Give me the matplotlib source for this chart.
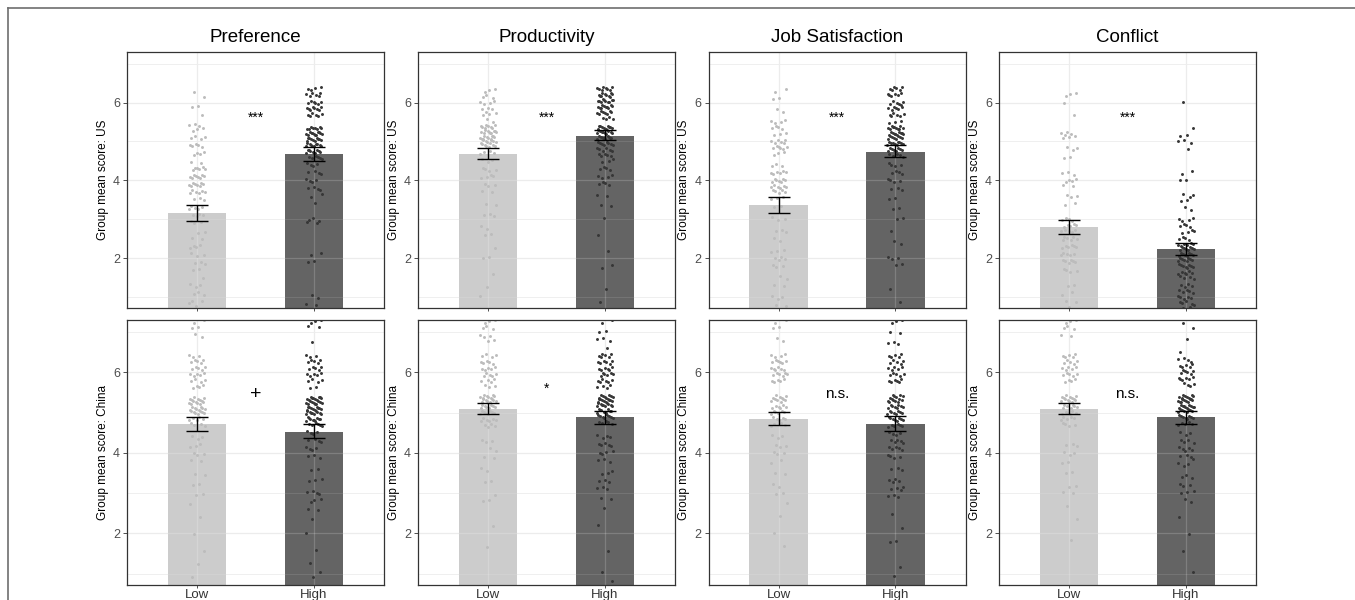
import numpy as np
import matplotlib
matplotlib.use('Agg')
import matplotlib.pyplot as plt
from matplotlib.lines import Line2D

plt.rcParams['font.family'] = ['Liberation Sans', 'DejaVu Sans']

# ---- data -------------------------------------------------------------
titles = ['Preference', 'Productivity', 'Job Satisfaction', 'Conflict']
countries = ['US', 'China']
groups = ['Low', 'High']

# bar heights (group means)
us_low_mean = [3.15, 4.68, 3.36, 2.79]
us_high_mean = [4.68, 5.15, 4.74, 2.23]
china_low_mean = [4.71, 5.10, 4.85, 5.10]
china_high_mean = [4.52, 4.88, 4.73, 4.88]

# error bar limits
us_low_lo = [2.96, 4.54, 3.15, 2.63]
us_low_hi = [3.37, 4.84, 3.57, 2.97]
us_high_lo = [4.51, 5.04, 4.59, 2.07]
us_high_hi = [4.86, 5.30, 4.92, 2.38]
china_low_lo = [4.54, 4.96, 4.69, 4.96]
china_low_hi = [4.88, 5.25, 5.01, 5.25]
china_high_lo = [4.37, 4.73, 4.55, 4.73]
china_high_hi = [4.71, 5.05, 4.91, 5.05]

# significance labels
us_sig = ['***', '***', '***', '***']
us_sig_y = [5.6, 5.6, 5.6, 5.6]
china_sig = ['+', '*', 'n.s.', 'n.s.']
china_sig_y = [5.45, 5.58, 5.46, 5.46]

# individual scores, as (value, count)
us_pref_low = [(6.3, 1), (6.1, 1), (5.9, 2), (5.7, 1), (5.4, 3), (5.3, 3), (5.1, 4), (4.9, 5),
               (4.7, 4), (4.5, 2), (4.3, 6), (4.1, 8), (3.9, 8), (3.7, 6), (3.5, 3), (3.3, 5),
               (3.1, 4), (2.9, 3), (2.7, 2), (2.5, 2), (2.3, 4), (2.1, 3), (1.9, 3), (1.7, 2),
               (1.5, 1), (1.3, 3), (1.1, 3), (0.9, 2), (0.8, 2)]
us_pref_high = [(6.35, 4), (6.2, 6), (6.0, 6), (5.85, 8), (5.7, 6), (5.35, 8), (5.2, 12), (5.05, 10),
                (4.9, 10), (4.75, 10), (4.6, 6), (4.4, 4), (4.2, 4), (4.0, 4), (3.8, 4), (3.6, 2),
                (3.4, 1), (3.0, 3), (2.9, 2), (2.1, 2), (1.9, 2), (1.0, 2), (0.8, 2)]
us_prod_low = [(6.3, 3), (6.15, 3), (6.0, 4), (5.85, 3), (5.7, 4), (5.55, 2), (5.4, 8), (5.25, 10),
               (5.1, 10), (5.0, 8), (4.9, 6), (4.7, 4), (4.5, 3), (4.3, 4), (4.1, 4), (3.9, 3),
               (3.7, 2), (3.4, 2), (3.1, 3), (2.8, 2), (2.6, 2), (2.3, 1), (2.0, 2), (1.6, 1),
               (1.3, 1), (1.0, 1)]
us_prod_high = [(6.35, 8), (6.2, 10), (6.05, 10), (5.9, 10), (5.75, 8), (5.6, 4), (5.35, 10),
                (5.25, 12), (5.1, 10), (4.95, 8), (4.8, 6), (4.65, 5), (4.5, 3), (4.3, 4), (4.1, 4),
                (3.9, 4), (3.6, 2), (3.4, 2), (3.0, 1), (2.6, 1), (2.2, 1), (1.8, 2), (1.2, 1),
                (0.9, 1)]
us_job_low = [(6.3, 2), (6.1, 2), (5.8, 2), (5.5, 4), (5.35, 4), (5.2, 3), (5.0, 6), (4.85, 6),
              (4.7, 3), (4.4, 3), (4.2, 6), (4.0, 7), (3.85, 6), (3.7, 5), (3.55, 3), (3.3, 2),
              (3.0, 3), (2.7, 3), (2.5, 2), (2.2, 3), (2.0, 4), (1.8, 3), (1.5, 2), (1.3, 2),
              (1.0, 3), (0.8, 2)]
us_job_high = [(6.35, 6), (6.2, 6), (6.0, 6), (5.85, 6), (5.7, 6), (5.5, 3), (5.35, 10), (5.2, 10),
               (5.1, 8), (4.95, 10), (4.8, 8), (4.65, 5), (4.4, 4), (4.2, 4), (4.0, 4), (3.8, 3),
               (3.5, 2), (3.3, 2), (3.0, 2), (2.7, 1), (2.4, 2), (2.0, 3), (1.8, 2), (1.2, 1),
               (0.9, 1)]
us_conf_low = [(6.2, 3), (6.0, 1), (5.7, 1), (5.2, 4), (5.1, 3), (4.8, 3), (4.6, 2), (4.2, 3),
               (4.0, 4), (3.9, 2), (3.6, 3), (3.4, 2), (3.0, 4), (2.85, 5), (2.7, 5), (2.5, 6),
               (2.3, 6), (2.1, 5), (1.9, 6), (1.7, 4), (1.3, 2), (1.1, 2), (0.9, 2), (0.8, 1)]
us_conf_high = [(6.05, 1), (5.3, 1), (5.15, 2), (5.0, 3), (4.8, 1), (4.2, 2), (4.0, 2), (3.6, 3),
                (3.5, 2), (3.3, 2), (3.0, 4), (2.85, 4), (2.7, 4), (2.5, 4), (2.35, 6), (2.25, 8),
                (2.1, 8), (1.95, 8), (1.8, 8), (1.65, 6), (1.5, 4), (1.3, 4), (1.15, 5), (1.0, 5),
                (0.85, 4), (0.75, 3)]

china_pref_low = [(7.25, 2), (7.1, 2), (6.9, 2), (6.4, 3), (6.25, 5), (6.1, 5), (5.95, 5), (5.8, 4),
                  (5.65, 4), (5.35, 6), (5.25, 8), (5.1, 8), (5.0, 7), (4.85, 5), (4.7, 4), (4.4, 3),
                  (4.2, 3), (4.0, 3), (3.8, 2), (3.5, 2), (3.2, 2), (3.0, 2), (2.7, 1), (2.4, 1),
                  (2.0, 1), (1.6, 1), (1.2, 1), (0.9, 1)]
china_pref_high = [(7.25, 3), (7.15, 2), (6.7, 1), (6.4, 3), (6.25, 5), (6.1, 5), (5.95, 5), (5.8, 4),
                   (5.65, 2), (5.35, 10), (5.25, 10), (5.1, 10), (5.0, 10), (4.85, 10), (4.7, 6),
                   (4.5, 4), (4.3, 4), (4.1, 4), (3.9, 3), (3.6, 2), (3.3, 3), (3.0, 4), (2.8, 3),
                   (2.6, 2), (2.3, 1), (2.0, 1), (1.6, 1), (1.3, 1), (1.1, 1), (0.9, 1)]
china_prod_low = [(7.25, 3), (7.1, 3), (6.9, 3), (6.75, 2), (6.4, 4), (6.25, 5), (6.1, 5), (5.95, 5),
                  (5.8, 4), (5.65, 3), (5.4, 8), (5.3, 8), (5.15, 8), (5.0, 8), (4.85, 6), (4.7, 4),
                  (4.3, 3), (4.1, 2), (3.9, 2), (3.6, 2), (3.3, 2), (3.0, 1), (2.8, 2), (2.2, 1),
                  (1.7, 1)]
china_prod_high = [(7.25, 2), (7.0, 2), (6.8, 3), (6.6, 1), (6.4, 6), (6.25, 6), (6.1, 6), (5.95, 6),
                   (5.8, 6), (5.65, 4), (5.4, 8), (5.3, 10), (5.2, 10), (5.05, 10), (4.9, 8),
                   (4.75, 5), (4.4, 4), (4.2, 5), (4.0, 4), (3.8, 3), (3.5, 3), (3.3, 3), (3.1, 3),
                   (2.9, 2), (2.6, 1), (2.2, 1), (1.6, 1), (1.1, 1), (0.8, 1)]
china_job_low = [(7.25, 2), (7.1, 2), (6.8, 2), (6.4, 4), (6.25, 6), (6.1, 6), (5.95, 6), (5.8, 5),
                 (5.4, 5), (5.3, 6), (5.15, 6), (5.0, 6), (4.85, 5), (4.7, 4), (4.4, 3), (4.2, 3),
                 (4.0, 3), (3.8, 2), (3.5, 2), (3.2, 2), (3.0, 2), (2.8, 1), (2.4, 1), (2.0, 1),
                 (1.7, 1)]
china_job_high = [(7.25, 3), (7.0, 2), (6.7, 3), (6.4, 5), (6.25, 5), (6.1, 5), (5.95, 5), (5.8, 6),
                  (5.4, 6), (5.3, 8), (5.15, 8), (5.0, 8), (4.85, 8), (4.7, 6), (4.5, 4), (4.3, 5),
                  (4.1, 5), (3.9, 4), (3.6, 3), (3.3, 4), (3.1, 4), (2.9, 3), (2.5, 1), (2.1, 1),
                  (1.8, 2), (1.2, 1), (0.9, 1)]
china_conf_low = [(7.25, 3), (7.1, 3), (6.9, 2), (6.4, 5), (6.25, 5), (6.1, 5), (5.95, 5), (5.8, 4),
                  (5.4, 6), (5.3, 7), (5.15, 7), (5.0, 6), (4.85, 5), (4.7, 4), (4.2, 3), (4.0, 3),
                  (3.8, 2), (3.5, 2), (3.2, 2), (3.0, 2), (2.7, 1), (2.4, 1), (1.8, 1)]
china_conf_high = [(7.25, 1), (7.05, 1), (6.8, 1), (6.5, 1), (6.3, 4), (6.15, 5), (6.0, 6), (5.85, 6),
                   (5.7, 4), (5.4, 8), (5.3, 10), (5.15, 10), (5.05, 8), (4.9, 8), (4.75, 5),
                   (4.5, 3), (4.3, 4), (4.1, 5), (3.9, 4), (3.7, 3), (3.4, 3), (3.2, 3), (3.0, 3),
                   (2.8, 2), (2.4, 1), (2.0, 1), (1.6, 1), (1.0, 1)]

rows = {
    'US': dict(mean=(us_low_mean, us_high_mean),
               lo=(us_low_lo, us_high_lo), hi=(us_low_hi, us_high_hi),
               sig=us_sig, sig_y=us_sig_y,
               pts=[(us_pref_low, us_pref_high), (us_prod_low, us_prod_high),
                    (us_job_low, us_job_high), (us_conf_low, us_conf_high)]),
    'China': dict(mean=(china_low_mean, china_high_mean),
                  lo=(china_low_lo, china_high_lo), hi=(china_low_hi, china_high_hi),
                  sig=china_sig, sig_y=china_sig_y,
                  pts=[(china_pref_low, china_pref_high), (china_prod_low, china_prod_high),
                       (china_job_low, china_job_high), (china_conf_low, china_conf_high)]),
}

bar_colors = ['#cccccc', '#646464']
pt_colors = ['#bcbcbc', '#363636']
grid_col = '#e8e8e8'


def expand(pairs):
    vals = []
    for v, n in pairs:
        vals += [v] * n
    return np.array(vals)


def jitter_x(n, width=0.07):
    # deterministic spread around the bar centre (like geom_jitter)
    k = np.arange(n)
    return ((k * 0.6180339887 + 0.31) % 1.0 - 0.5) * 2 * width


def jitter_y(n, height=0.05):
    k = np.arange(n)
    return ((k * 0.7548776662 + 0.17) % 1.0 - 0.5) * 2 * height


# ---- figure -----------------------------------------------------------
W, H = 1355, 600
fig = plt.figure(figsize=(W / 100, H / 100), dpi=100)

# partial outer frame (top + left)
fig.add_artist(Line2D([8 / W, 1], [1 - 7.5 / H, 1 - 7.5 / H], transform=fig.transFigure,
                      color='#6e6e6e', lw=1.2))
fig.add_artist(Line2D([8 / W, 8 / W], [0, 1 - 7.5 / H], transform=fig.transFigure,
                      color='#6e6e6e', lw=1.2))

lefts = [127, 418, 708.5, 999]
pw = 257
row_box = {'US': (52, 308), 'China': (320, 585)}

xs = np.array([1, 2])
for r, country in enumerate(countries):
    d = rows[country]
    top, bot = row_box[country]
    for c, title in enumerate(titles):
        ax = fig.add_axes([lefts[c] / W, 1 - bot / H, pw / W, (bot - top) / H])
        ax.set_xlim(0.4, 2.6)
        ax.set_ylim(0.72, 7.3)

        # grid beneath
        for y in [1, 3, 5, 7]:
            ax.axhline(y, color=grid_col, lw=0.5, zorder=0)
        for y in [2, 4, 6]:
            ax.axhline(y, color=grid_col, lw=0.9, zorder=0)
        for x in xs:
            ax.axvline(x, color=grid_col, lw=0.9, zorder=0)

        means = [d['mean'][0][c], d['mean'][1][c]]
        ax.bar(xs, means, width=0.5, color=bar_colors, zorder=1)

        # grid lines showing faintly through the bars
        for y in [1, 3, 5, 7]:
            ax.axhline(y, color='white', lw=0.5, alpha=0.15, zorder=1.5)
        for y in [2, 4, 6]:
            ax.axhline(y, color='white', lw=0.9, alpha=0.18, zorder=1.5)
        for x in xs:
            ax.axvline(x, color='white', lw=0.9, alpha=0.18, zorder=1.5)

        for g in range(2):
            yv = expand(d['pts'][c][g])
            ax.scatter(xs[g] + jitter_x(len(yv)), yv + jitter_y(len(yv)), s=4.5,
                       color=pt_colors[g], linewidths=0, zorder=2, clip_on=True)

        for g in range(2):
            lo = d['lo'][g][c]
            hi = d['hi'][g][c]
            ax.errorbar(xs[g], means[g], yerr=[[means[g] - lo], [hi - means[g]]],
                        fmt='none', ecolor='black', elinewidth=1.0, capsize=8,
                        capthick=1.0, zorder=3)

        sig = d['sig'][c]
        fs = 11 if sig == 'n.s.' else (14 if sig == '+' else 10)
        ax.text(1.5, d['sig_y'][c], sig, ha='center', va='center', fontsize=fs,
                color='black', zorder=4)

        ax.set_yticks([2, 4, 6])
        ax.set_xticks(xs)
        ax.tick_params(axis='y', length=3, width=0.6, color='#333333',
                       labelsize=9, labelcolor='#4d4d4d', pad=2)
        ax.tick_params(axis='x', length=2.5, width=0.6, color='#333333', pad=0.5)
        if r == 1:
            ax.set_xticklabels(groups, fontsize=9.5, color='#333333')
        else:
            ax.set_xticklabels(['', ''])
        ax.set_ylabel(f'Group mean score: {country}', fontsize=8.5, labelpad=3)
        for s in ax.spines.values():
            s.set_color('#333333')
            s.set_linewidth(0.9)
        if r == 0:
            ax.set_title(title, fontsize=13.5, pad=7)

fig.savefig('out.png', dpi=100, facecolor='white')
